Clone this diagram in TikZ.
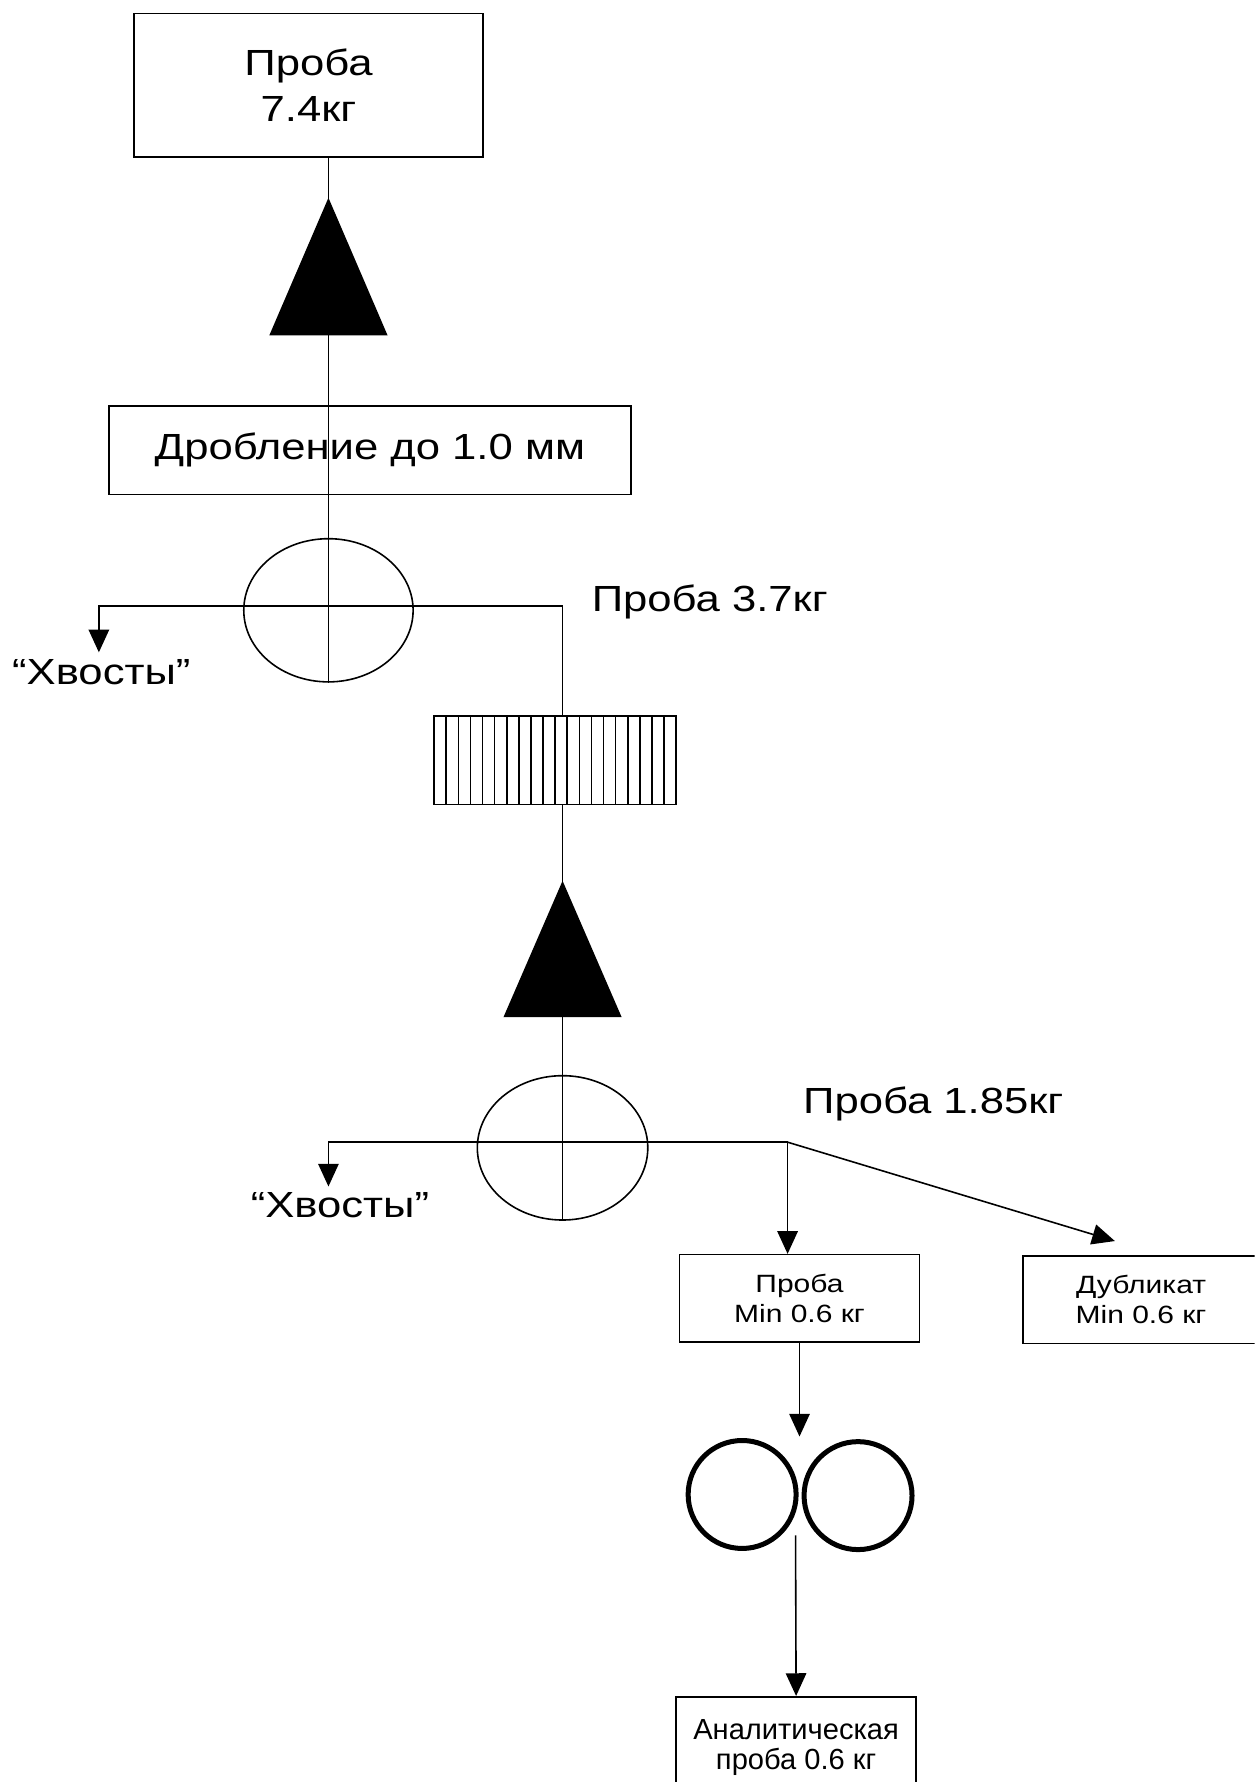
\documentclass[tikz,border=0pt]{standalone}
\usepackage{fontspec}
\setmainfont{Liberation Sans}[FakeStretch=1.2]
\newfontfamily\plainsans{Liberation Sans}
\usetikzlibrary{arrows.meta,shapes.geometric}
\begin{document}
\begin{tikzpicture}[x=0.5pt,y=-0.5pt, line width=0.7pt,
  box/.style={draw, rectangle, inner sep=0pt, align=center},
  oval/.style={draw, ellipse, inner sep=0pt},
  arr/.style={-{Triangle[length=10pt,width=9pt]}},
  big/.style={font=\fontsize{16}{20.5}\selectfont},
  small/.style={font=\fontsize{11}{13}\selectfont},
  label/.style={big, inner sep=0pt, anchor=base west},
  ring/.style={draw, circle, line width=2.2pt, minimum size=47.5pt, inner sep=0pt},
  wedge/.style={fill=black}]
\useasboundingbox (0,0) rectangle (1104,1568);
\clip (0,0) rectangle (1104,1568);

% boxes and apparatus
\node[box, big, minimum width=153.5pt, minimum height=63pt] (top) at (271.5,75) {Проба\\7.4кг};
\node[box, big, minimum width=229.5pt, minimum height=39pt] (crush) at (325.5,396) {Дробление до 1.0 мм};
\node[oval, minimum width=74.5pt, minimum height=63pt] (e1) at (289,537) {};
\node[box, minimum width=106.5pt, minimum height=39pt] (hat) at (488.5,669) {};
\node[oval, minimum width=75pt, minimum height=63.5pt] (e2) at (495,1010) {};
\node[box, small, minimum width=105.5pt, minimum height=38.5pt] (proba) at (703.5,1142.5) {Проба\\Min 0.6 кг};
\node[box, small, minimum width=104pt, minimum height=38.5pt] (dup) at (1004,1143.5) {Дубликат\\Min 0.6 кг};
\node[ring] (c1) at (653,1315) {};
\node[ring] (c2) at (755,1316) {};
\node[box, font=\plainsans\fontsize{12.8}{13.2}\selectfont, minimum width=105.5pt, minimum height=45pt] (anal) at (700.5,1538) {Аналитическая\\проба 0.6 кг};

% hatching of the screen
\foreach \i in {1,...,19}
  \draw ({382+\i*10.65},630) -- ({382+\i*10.65},708);

% labels
\node[label] (l37) at (520,538) {Проба 3.7кг};
\node[label] (l185) at (706,980) {Проба 1.85кг};
\node[label] (tail1) at (10,602) {“Хвосты”};
\node[label] (tail2) at (220,1071) {“Хвосты”};

% helper coordinates
\coordinate (xl1) at (87,533);
\coordinate (xt1) at (87,574);
\coordinate (xl2) at (289,1005);
\coordinate (xt2) at (289,1044);
\coordinate (br) at (693,1005);
\coordinate (dtip) at (981,1092);
\coordinate (rtip) at (703.5,1264);
\coordinate (cout) at (700,1351);

% connectors
\draw (e1.south) -- (e1.south |- top.south);
\draw[arr] (hat.north -| e2.center) |- (xl1) -- (xt1);
\draw (hat.south -| e2.center) -- (e2.south);
\draw[arr] (br) -- (xl2) -- (xt2);
\draw[arr] (br) -- (proba.north -| br);
\draw[arr] (br) -- (dtip);
\draw[arr] (proba.south) -- (rtip);
\draw[arr] (cout) -- (anal.north);

% triangles (filled)
\fill[wedge] (289,174) -- (341,295) -- (237,295) -- cycle;
\fill[wedge] (495,775) -- (547,895) -- (443,895) -- cycle;
\end{tikzpicture}
\end{document}
